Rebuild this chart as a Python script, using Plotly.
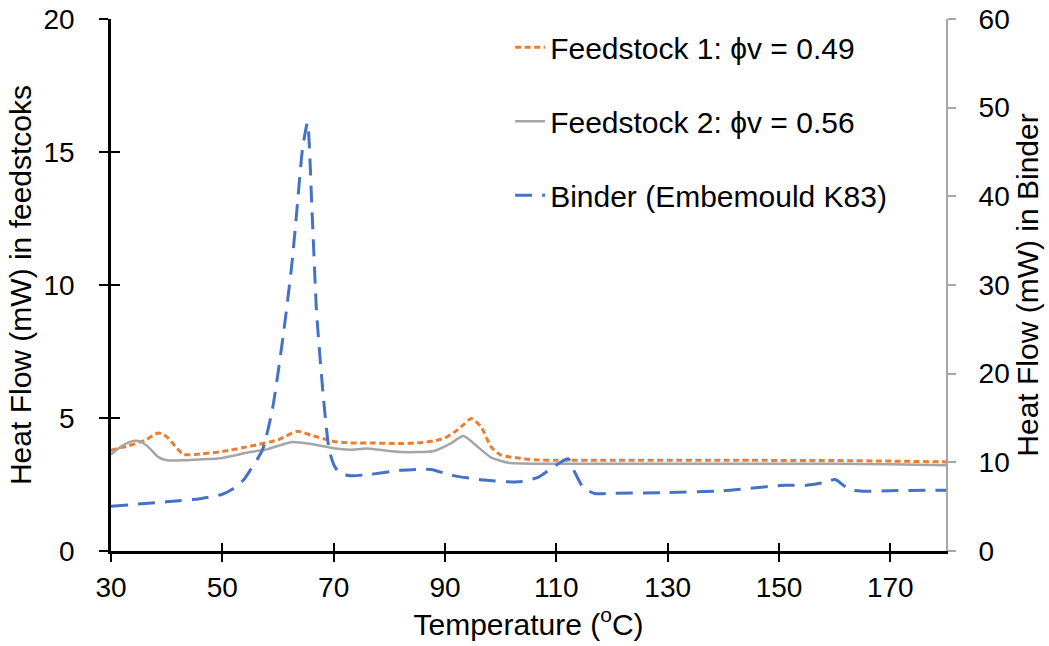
import plotly.graph_objects as go

# Feedstock 1 (left axis, mW)
t_fs1 = [30, 33, 36, 38.5, 40, 41.5, 43, 46, 50, 55, 60, 63.5, 66, 70, 73, 77, 82, 86, 88, 90, 91.7, 93.5, 94.7, 96.5, 98.3, 100.1, 103, 106, 110, 120, 140, 160, 170, 180]
hf_fs1 = [3.79, 3.95, 4.15, 4.44, 4.3, 3.95, 3.63, 3.65, 3.74, 3.94, 4.18, 4.5, 4.35, 4.12, 4.06, 4.06, 4.04, 4.08, 4.14, 4.25, 4.47, 4.78, 4.98, 4.66, 3.91, 3.6, 3.5, 3.43, 3.41, 3.41, 3.41, 3.4, 3.38, 3.35]

# Feedstock 2 (left axis, mW)
t_fs2 = [30, 32, 34, 35.5, 37, 38.5, 40, 43, 46, 50, 55, 58, 62.5, 66, 70, 73, 76, 82, 88, 91, 93.3, 95.9, 98.3, 101.3, 104, 110, 120, 140, 160, 170, 180]
hf_fs2 = [3.63, 3.95, 4.14, 4.1, 3.85, 3.53, 3.41, 3.41, 3.44, 3.5, 3.72, 3.82, 4.1, 4.02, 3.86, 3.81, 3.85, 3.72, 3.76, 4.04, 4.32, 3.91, 3.51, 3.32, 3.29, 3.28, 3.28, 3.28, 3.28, 3.26, 3.22]

# Binder (right axis, mW)
t_bind = [30, 40, 46, 50, 52, 53.8, 55, 57.2, 59, 61, 62.5, 63.4, 64.4, 65.3, 66.1, 66.9, 67.2, 68.2, 69.2, 70.2, 71.3, 73, 76, 82.1, 87.5, 91.1, 97.1, 103.1, 106.7, 109.1, 112.1, 113.3, 114.8, 116.9, 120, 130, 140, 151, 155, 158, 160.1, 162.6, 165, 170, 180]
hf_bind = [5.05, 5.55, 5.9, 6.4, 7.05, 8.0, 9.1, 11.4, 16.0, 24.6, 32.4, 38.5, 45.3, 48.3, 38.5, 27.2, 24.6, 17.0, 11.4, 9.5, 8.7, 8.5, 8.6, 9.1, 9.2, 8.55, 8.0, 7.8, 8.3, 9.3, 10.4, 8.9, 7.2, 6.48, 6.5, 6.6, 6.8, 7.42, 7.42, 7.7, 8.07, 6.94, 6.75, 6.8, 6.86]

x_ticks = [30, 50, 70, 90, 110, 130, 150, 170]
left_ticks = [0, 5, 10, 15, 20]
right_ticks = [0, 10, 20, 30, 40, 50, 60]

FONT = "Arial, Liberation Sans, sans-serif"

fig = go.Figure()
fig.add_trace(go.Scatter(
    x=t_fs1, y=hf_fs1, mode="lines", name="Feedstock 1: \u03d5v = 0.49",
    legendgroup="a", line=dict(color="#ED7D31", width=3, dash="6px,3.5px", shape="spline", smoothing=0.6),
    xaxis="x", yaxis="y"))
fig.add_trace(go.Scatter(
    x=t_fs2, y=hf_fs2, mode="lines", name="Feedstock 2: \u03d5v = 0.56",
    legendgroup="b", line=dict(color="#A5A5A5", width=2.5, shape="spline", smoothing=0.6),
    xaxis="x", yaxis="y"))
fig.add_trace(go.Scatter(
    x=t_bind, y=hf_bind, mode="lines", name="Binder (Embemould K83)",
    legendgroup="c", line=dict(color="#4472C4", width=3, dash="17px,10px", shape="spline", smoothing=0.6),
    xaxis="x", yaxis="y2"))
# empty traces so that the overlay axes (inner half of the crossing ticks) get drawn
fig.add_trace(go.Scatter(x=[None], y=[None], xaxis="x2", yaxis="y", showlegend=False, hoverinfo="skip"))
fig.add_trace(go.Scatter(x=[None], y=[None], xaxis="x", yaxis="y3", showlegend=False, hoverinfo="skip"))

fig.update_layout(
    width=1049, height=646,
    margin=dict(l=111, r=103, t=19, b=95),
    paper_bgcolor="white", plot_bgcolor="white",
    font=dict(family=FONT, size=28, color="#000000"),
    xaxis=dict(
        range=[30, 180], tickmode="array", tickvals=x_ticks, automargin=False,
        ticks="outside", ticklen=8, tickwidth=2, tickcolor="black",
        showline=True, linecolor="black", linewidth=2.5, showgrid=False, zeroline=False,
        tickfont=dict(size=28), ticklabelstandoff=2,
        title=dict(text="Temperature (<sup>o</sup>C)", font=dict(size=30), standoff=4),
    ),
    xaxis2=dict(
        range=[30, 180], overlaying="x", anchor="y", side="bottom", tickmode="array", tickvals=x_ticks,
        ticks="inside", ticklen=8, tickwidth=2, tickcolor="black", automargin=False,
        showticklabels=False, showline=False, showgrid=False, zeroline=False,
    ),
    yaxis=dict(
        range=[0, 20], tickmode="array", tickvals=left_ticks, automargin=False,
        ticks="outside", ticklen=9, tickwidth=2, tickcolor="black",
        showline=True, linecolor="black", linewidth=2.5, showgrid=False, zeroline=False,
        tickfont=dict(size=28), ticklabelstandoff=19,
        title=dict(text="Heat Flow (mW) in feedstcoks", font=dict(size=30), standoff=3),
    ),
    yaxis3=dict(
        range=[0, 20], overlaying="y", anchor="x", side="left", tickmode="array", tickvals=left_ticks,
        ticks="inside", ticklen=9, tickwidth=2, tickcolor="black", automargin=False,
        showticklabels=False, showline=False, showgrid=False, zeroline=False,
    ),
    yaxis2=dict(
        range=[0, 60], overlaying="y", side="right", anchor="x", tickmode="array", tickvals=right_ticks,
        ticks="outside", ticklen=8, tickwidth=1.5, tickcolor="#A6A6A6", automargin=False,
        showline=True, linecolor="#A6A6A6", linewidth=2, showgrid=False, zeroline=False,
        tickfont=dict(size=28), ticklabelstandoff=17,
        title=dict(text="Heat Flow (mW) in Binder", font=dict(size=30), standoff=8),
    ),
    legend=dict(
        x=0.478, y=0.996, xanchor="left", yanchor="top",
        bgcolor="rgba(0,0,0,0)", font=dict(size=30),
        traceorder="grouped", tracegroupgap=32,
    ),
    showlegend=True,
)

# remove the page's default 8px body margin so the figure fills the window exactly
fig.write_html(
    "out.html",
    config={"displayModeBar": False},
    post_script="document.body.style.margin='0px';document.body.style.overflow='hidden';",
)
